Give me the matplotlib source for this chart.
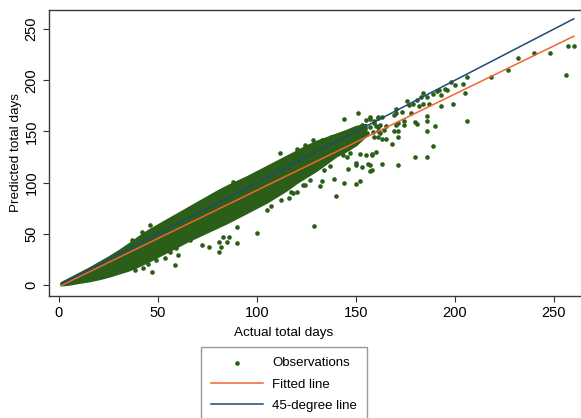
import matplotlib
matplotlib.use('Agg')
import matplotlib.pyplot as plt

plt.rcParams['font.family'] = ['Liberation Sans', 'DejaVu Sans']

# dense part of the cloud (actual days, predicted band)
band_x = [1, 5, 10, 15, 20, 25, 30, 35, 40, 45, 50, 55, 60, 65, 70, 75, 80,
          85, 90, 95, 100, 105, 110, 115, 120, 125, 130, 135, 140, 145, 150,
          155]
band_hi = [2.5, 6.5, 11.5, 16.5, 22, 27.5, 33.5, 40, 47, 53.5, 59, 64.5, 70,
           75.5, 81, 86.5, 92, 97, 101.5, 106, 111, 116, 121, 126, 131, 136,
           140.5, 144, 147.5, 151, 155, 157]
band_lo = [0, 0.8, 2.5, 4, 6, 8.5, 11.5, 14.5, 18.5, 23, 28, 33, 38, 43, 47.5,
           52, 56.5, 61, 66, 71, 76, 81, 87, 93, 100, 106, 112, 119, 126, 131,
           137, 146]

# single observations outside the dense band
obs_x = [257, 260, 256, 248, 240, 232, 227, 218, 206, 204, 200, 198, 205, 206,
         199, 193, 196, 195, 192, 193, 191, 189, 186, 183, 184, 187, 184, 182,
         181, 179, 177, 178, 176, 173, 170, 170, 169, 186, 186, 190, 186, 189,
         186, 180, 180, 181, 174, 174, 171, 170, 171, 169, 165, 164, 162, 165,
         163, 171, 161, 163, 159, 160, 162, 157, 157, 155, 161, 159, 151, 144,
         161, 159, 161, 168, 171, 163, 158, 160, 158, 155, 152, 150, 153, 157,
         157, 158, 156, 150, 146, 144, 150, 152, 140, 129, 139, 133, 132, 137,
         134, 127, 124, 120, 118, 123, 117, 116, 112, 107, 105, 100, 90, 85,
         81, 82, 76, 72, 66, 59, 89.7, 86, 81, 83, 60, 56, 58.6, 53.5, 49,
         46.8, 45, 42.6, 38.4, 46, 88, 83, 111.6, 128.4, 37, 42,
         120.4, 124, 132.7, 137.2, 142, 146.6, 148.6, 152.9, 154.5, 157,
         147, 145.3, 143.6, 146, 147.8, 152, 155.4, 158.7, 161.3]
obs_y = [233, 233, 205, 227, 227, 222, 210, 203, 203, 196, 195, 198, 188, 160,
         177, 175, 190, 191, 190, 186, 189, 187, 184, 184, 188, 177, 177, 175,
         181, 177, 176, 168, 180, 169, 172, 168, 166, 165, 160, 155, 150, 136,
         125, 125, 159, 157, 160, 156, 158, 156, 150, 150, 155, 151, 148, 143,
         143, 145, 163, 164, 158, 155, 156, 164, 162, 161, 164, 160, 168, 162,
         145, 145, 150, 138, 117, 118, 127, 130, 128, 127, 128, 119, 115, 117,
         111, 112, 118, 117, 113, 100, 99, 102, 87, 58, 104, 102, 97, 116,
         112, 103, 98, 91, 90, 98, 91, 85, 83, 77, 73, 50.5, 57, 42, 32.5, 37,
         37, 39, 44, 36, 40.7, 47, 42, 47, 29, 32.5, 19.5, 26, 24, 13, 21,
         16.3, 14.6, 58.6, 101, 93, 128.6, 141.6, 44, 52,
         132.5, 136.7, 141.6, 144.8, 146.5, 148, 149.7, 156.3, 153, 154.6,
         128.6, 125.3, 127, 133.5, 138.4, 143.2, 148.1, 149.7, 154.6]

# 45-degree line and fitted line end points
diag_x = [1, 260]
diag_y = [1, 260]
fit_x = [1, 260]
fit_y = [-0.6, 243]

green = '#2b5e18'
orange = '#f26532'
navy = '#1f4a73'

fig = plt.figure(figsize=(5.81, 4.18), dpi=100)
ax = fig.add_axes([49 / 581, 1 - 295.5 / 418, 544 / 581, 285.5 / 418])

ax.fill_between(band_x, band_lo, band_hi, color=green, lw=1.5, edgecolor=green)
ax.scatter(obs_x, obs_y, s=11, color=green, linewidths=0, zorder=2,
           label='Observations')
ax.plot(fit_x, fit_y, color=orange, lw=1.1, zorder=3, label='Fitted line')
ax.plot(diag_x, diag_y, color=navy, lw=1.1, zorder=3, label='45-degree line')

ax.set_xlim(-5.05, 269.7)
ax.set_ylim(-10.25, 268.6)
ax.set_xticks([0, 50, 100, 150, 200, 250])
ax.set_yticks([0, 50, 100, 150, 200, 250])
ax.tick_params(direction='out', length=4, width=0.8, color='#333333',
               labelsize=10.5, pad=3.5)
for lab in ax.get_yticklabels():
    lab.set_rotation(90)
    lab.set_va('center')
for side in ax.spines.values():
    side.set_color('#3a3a3a')
    side.set_linewidth(1.0)

ax.set_xlabel('Actual total days', fontsize=9.7)
ax.set_ylabel('Predicted total days', fontsize=9.7)
ax.xaxis.set_label_coords((284 - 49) / 544, -0.112)
ax.yaxis.set_label_coords(-0.0496, 0.5)

leg = fig.legend(loc='upper center', bbox_to_anchor=(284 / 581, 1 - 347 / 418),
                 fontsize=9.5, frameon=True, fancybox=False, borderaxespad=0,
                 handlelength=3.9, handletextpad=0.7, labelspacing=0.7,
                 borderpad=0.75, markerscale=1.0)
leg.get_frame().set_edgecolor('#808080')
leg.get_frame().set_linewidth(1.0)

fig.savefig('out.png', dpi=100)
